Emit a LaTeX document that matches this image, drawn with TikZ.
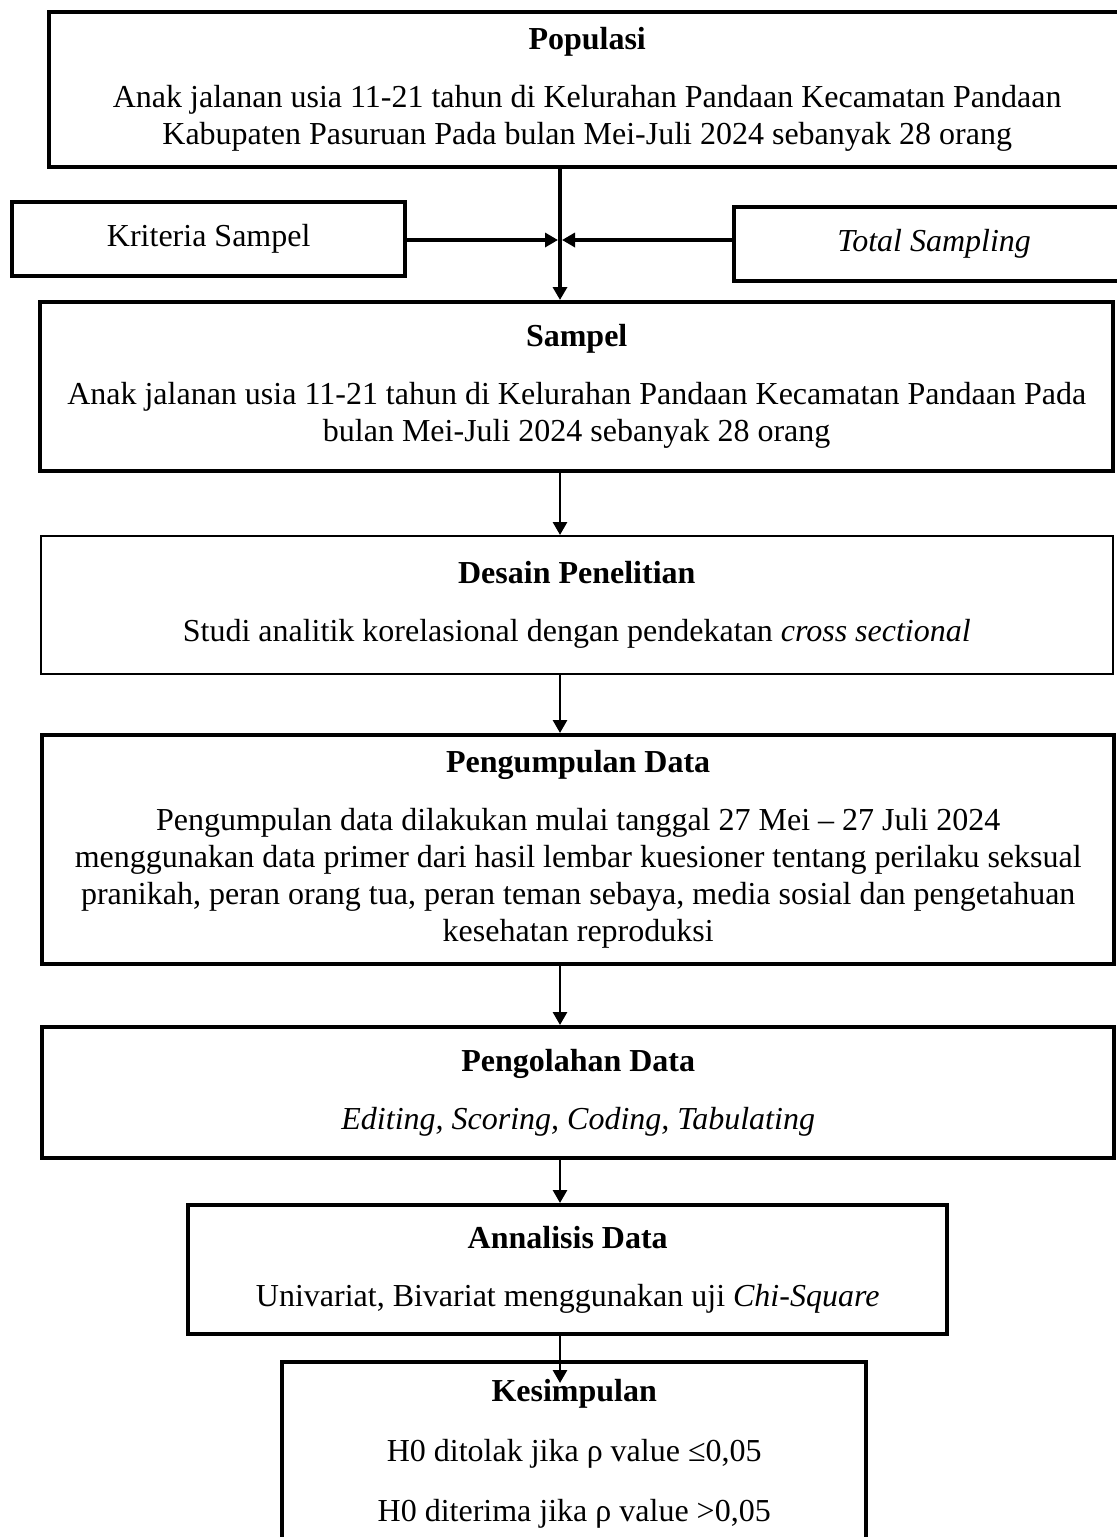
\documentclass[tikz,border=0pt]{standalone}
\usepackage{fontspec}
\setmainfont{Liberation Serif}
\usetikzlibrary{arrows.meta}
\newcommand{\boxLine}{2.2pt}
\newcommand{\flowLine}{1.4pt}

\begin{document}
\begin{tikzpicture}[
        x=0.5pt, y=-0.5pt,
        every node/.append style={font=\fontsize{16pt}{18.5pt}\selectfont, align=center, inner sep=0pt},
        stage/.style={draw, line width=\boxLine, anchor=north west},
        thin stage/.style={stage, line width=0.8pt},
        boxsize/.style 2 args={minimum width=#1*0.5pt, minimum height=#2*0.5pt},
        flow/.style={-{Triangle[width=7pt,length=6.5pt]}, line width=\flowLine}
    ]
    \useasboundingbox (0,0) rectangle (1116,1537);
    \coordinate (axis) at (560,0);
    \coordinate (join) at (560,240);

    \node[stage, boxsize={1076}{155}] (populasi) at (47,10) {
            \textbf{Populasi}\\[10.5pt]
            Anak jalanan usia 11-21 tahun di Kelurahan Pandaan Kecamatan Pandaan\\
            Kabupaten Pasuruan Pada bulan Mei-Juli 2024 sebanyak 28 orang
        };
    \node[stage, boxsize={393}{74}] (kriteria) at (10,200) {Kriteria Sampel};
    \node[stage, boxsize={400}{74}] (total) at (732,205) {\textit{Total Sampling}};
    \node[stage, boxsize={1073}{169}] (sampel) at (38,300) {
            \textbf{Sampel}\\[10.5pt]
            Anak jalanan usia 11-21 tahun di Kelurahan Pandaan Kecamatan Pandaan Pada\\
            bulan Mei-Juli 2024 sebanyak 28 orang
        };
    \node[thin stage, boxsize={1072}{138}] (desain) at (40,535) {
            \textbf{Desain Penelitian}\\[10.5pt]
            Studi analitik korelasional dengan pendekatan \textit{cross sectional}
        };
    \node[stage, boxsize={1072}{229}] (kumpul) at (40,733) {
            \textbf{Pengumpulan Data}\\[10.5pt]
            Pengumpulan data dilakukan mulai tanggal 27 Mei – 27 Juli 2024\\
            menggunakan data primer dari hasil lembar kuesioner tentang perilaku seksual\\
            pranikah, peran orang tua, peran teman sebaya, media sosial dan pengetahuan\\
            kesehatan reproduksi
        };
    \node[stage, boxsize={1072}{131}] (olah) at (40,1025) {
            \textbf{Pengolahan Data}\\[10.5pt]
            \textit{Editing, Scoring, Coding, Tabulating}
        };
    \node[stage, boxsize={759}{129}] (analisis) at (186,1203) {
            \textbf{Annalisis Data}\\[10.5pt]
            Univariat, Bivariat menggunakan uji \textit{Chi-Square}
        };
    \node[stage, boxsize={584}{184}] (simpul) at (280,1360) {
            \textbf{Kesimpulan}\\[11.5pt]
            H0 ditolak jika ρ value ≤0,05\\[11.5pt]
            H0 diterima jika ρ value >0,05
        };

    % alur utama
    \draw[flow, line width=2pt] (populasi.south -| axis) -- (sampel.north -| axis);
    \draw[flow, line width=2pt, shorten >=1pt] (kriteria.east |- join) -- (join);
    \draw[flow, line width=2pt, shorten >=1pt] (total.west |- join) -- (join);
    \draw[flow] (sampel.south -| axis) -- (desain.north -| axis);
    \draw[flow] (desain.south -| axis) -- (kumpul.north -| axis);
    \draw[flow] (kumpul.south -| axis) -- (olah.north -| axis);
    \draw[flow] (olah.south -| axis) -- (analisis.north -| axis);
    \draw[flow, shorten >=-11.5pt] (analisis.south -| axis) -- (simpul.north -| axis);
\end{tikzpicture}
\end{document}
